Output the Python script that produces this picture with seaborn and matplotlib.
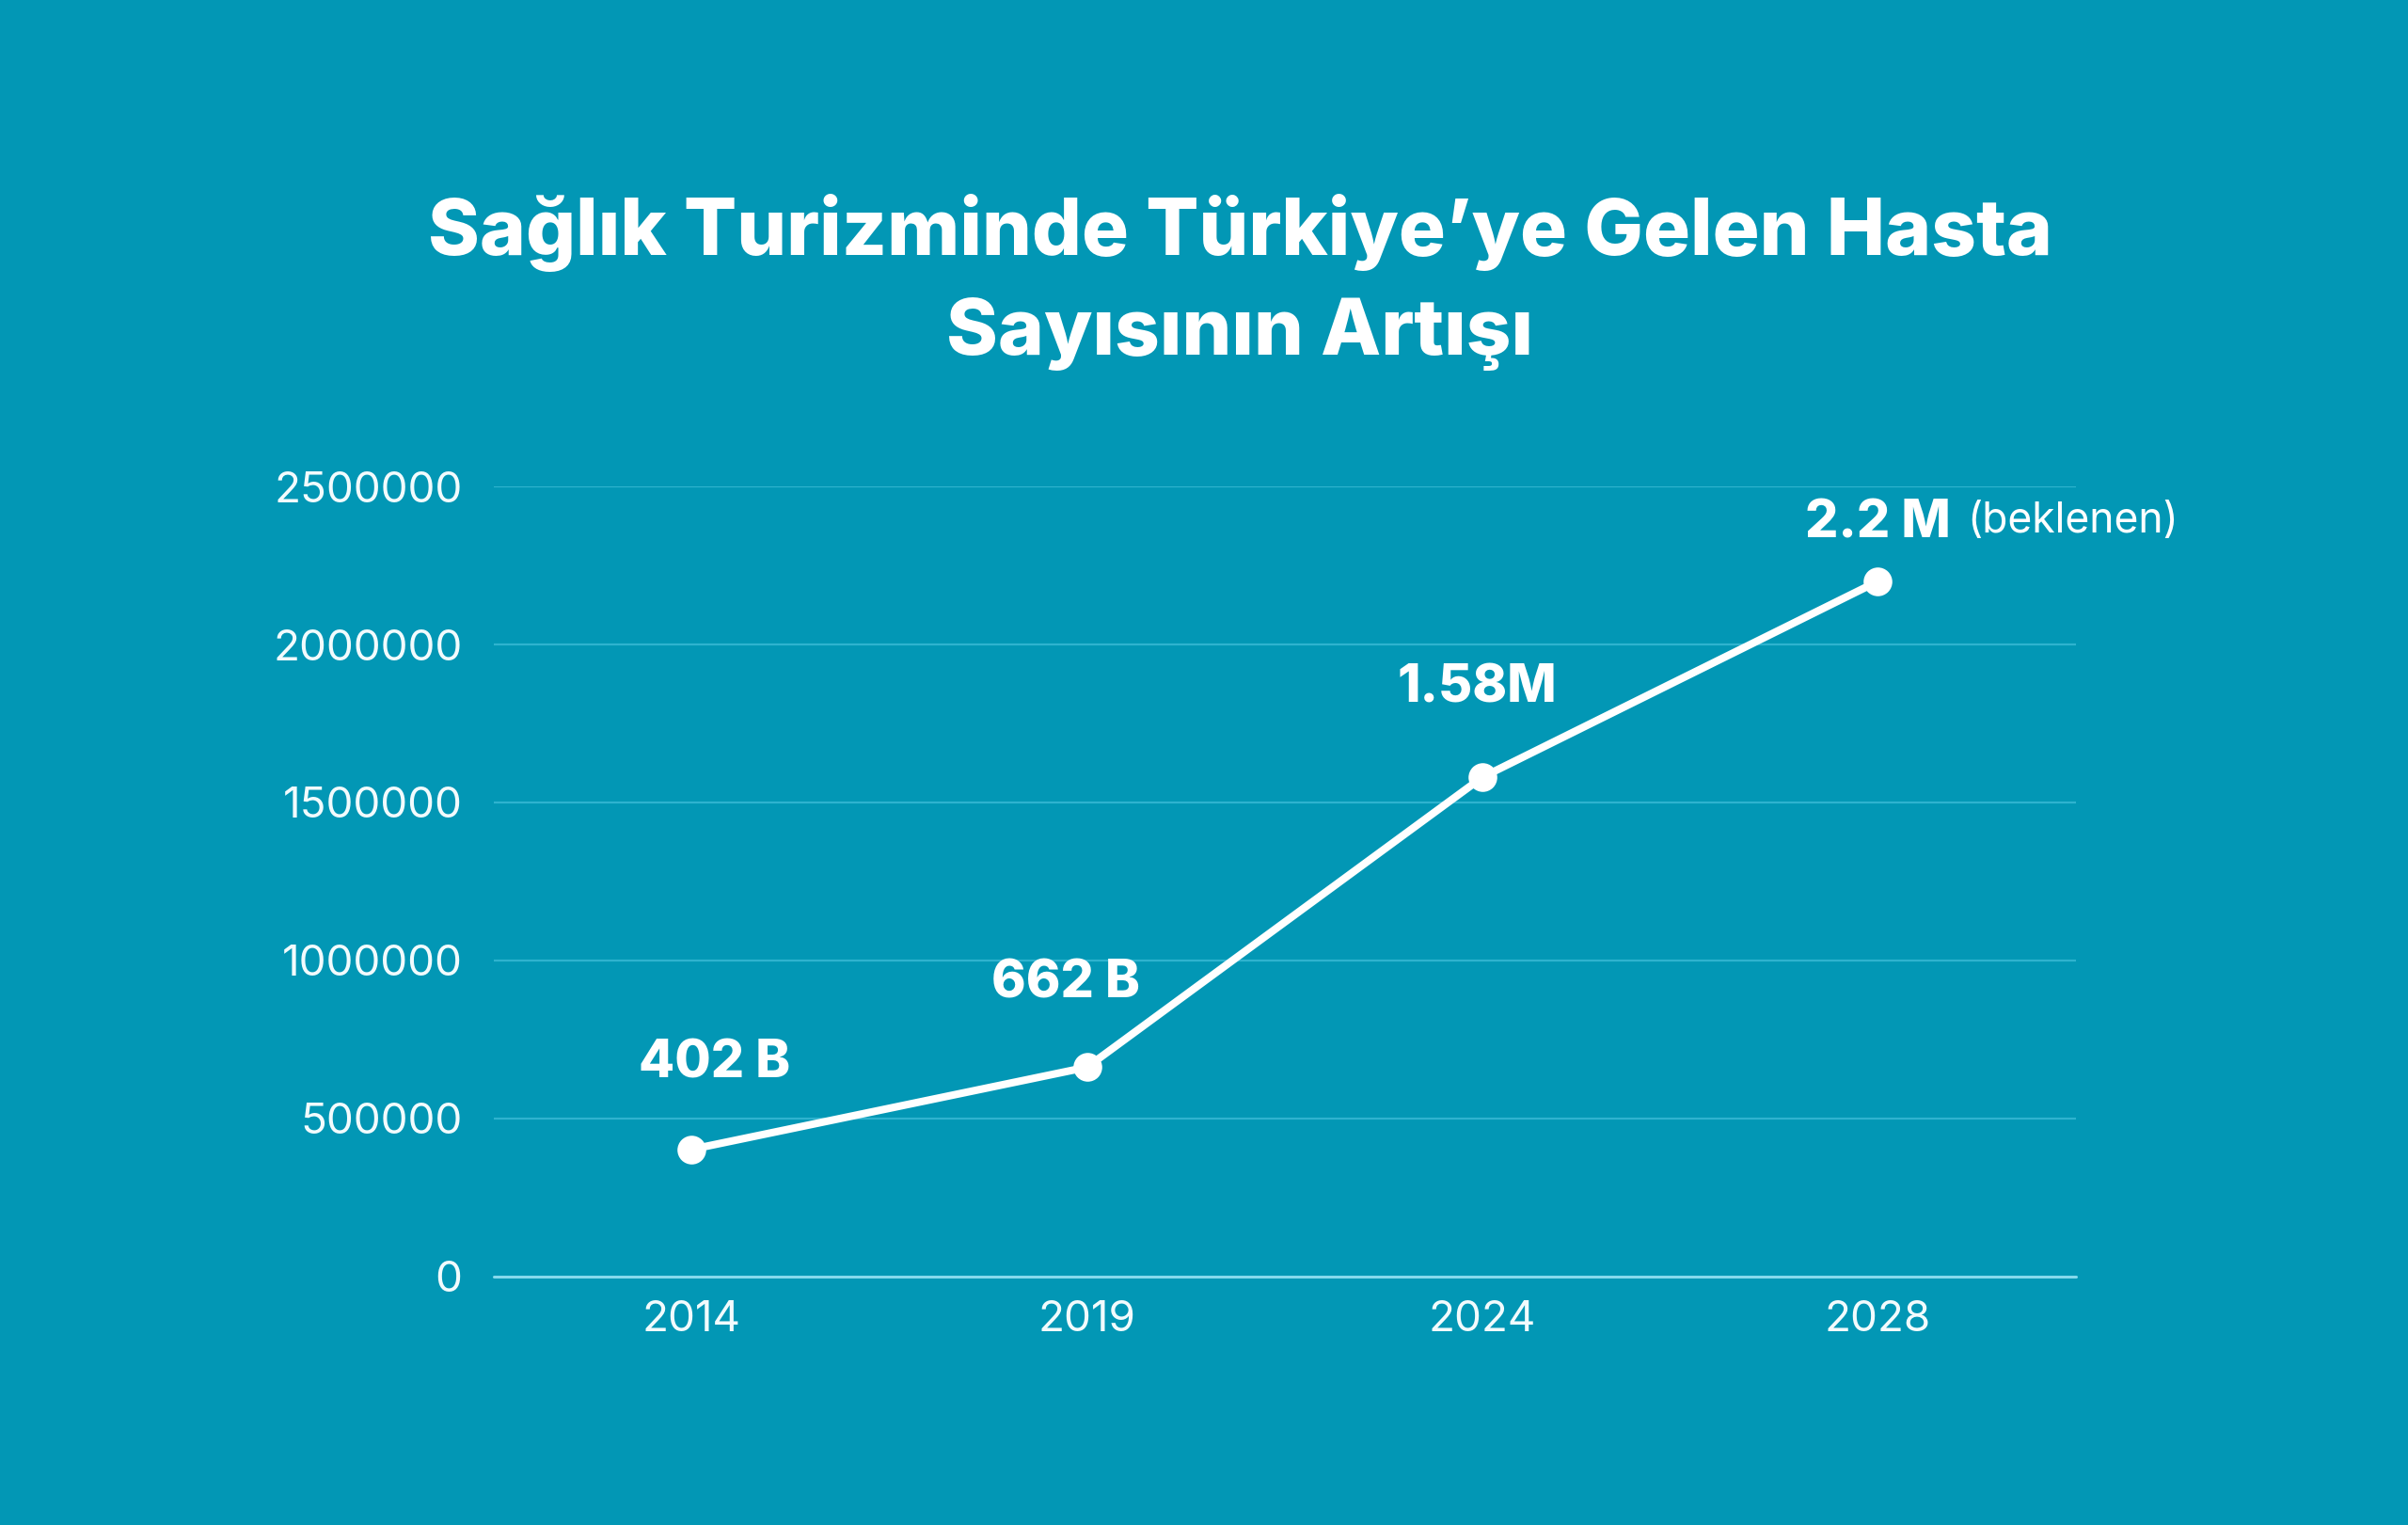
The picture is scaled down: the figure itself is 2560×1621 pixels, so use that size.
import matplotlib
matplotlib.use("Agg")
import matplotlib.pyplot as plt
import seaborn as sns
import pandas as pd

years = ["2014", "2019", "2024", "2028"]
patients = [402000, 662000, 1580000, 2200000]
labels = ["402 B", "662 B", "1.58M", "2.2 M"]
yticks = [0, 500000, 1000000, 1500000, 2000000, 2500000]
title = "Sağlık Turizminde Türkiye’ye Gelen Hasta\nSayısının Artışı"
note = "(beklenen)"

BG = "#0297B5"
GRID = "#2FB3CF"
BASE = "#86D9EC"
WHITE = "#FFFFFF"

sns.set_theme(style="white")
plt.rcParams["font.family"] = ["Inter", "DejaVu Sans"]

df = pd.DataFrame({"year": years, "patients": patients})

fig = plt.figure(figsize=(12.8, 8.105), dpi=200, facecolor=BG)
ax = fig.add_axes([0.205, 0.163, 0.657, 0.518])
ax.set_facecolor(BG)

sns.lineplot(data=df, x="year", y="patients", ax=ax, color=WHITE,
             linewidth=2.9, marker="o", markersize=11, markeredgewidth=0,
             sort=False, zorder=5)

ax.set_xlim(-0.5, 3.5)
ax.set_ylim(0, 2500000)
ax.set_yticks(yticks)
ax.set_yticklabels([str(v) for v in yticks])
ax.set_xlabel("")
ax.set_ylabel("")

for v in yticks[1:]:
    ax.axhline(v, color=GRID, linewidth=0.8, zorder=1)
ax.axhline(0, color=BASE, linewidth=1.1, zorder=1, clip_on=False)

for s in ax.spines.values():
    s.set_visible(False)
ax.tick_params(axis="both", length=0, colors=WHITE, labelsize=16.5)
ax.tick_params(axis="y", pad=12)
ax.tick_params(axis="x", pad=9)
for t in ax.get_xticklabels() + ax.get_yticklabels():
    t.set_fontweight("normal")
    t.set_color("#F2FBFD")

offsets = [(9, 33), (-8, 32), (-2, 34), (0, 22)]
for i, (lab, v, off) in enumerate(zip(labels, patients, offsets)):
    ax.annotate(lab, xy=(i, v), xytext=off, textcoords="offset points",
                ha="center", va="center", color=WHITE, fontsize=20,
                fontweight="heavy", zorder=6)

ax.annotate(note, xy=(3, patients[3]), xytext=(34, 23), textcoords="offset points",
            ha="left", va="center", color=WHITE, fontsize=16, fontweight="normal",
            annotation_clip=False)

fig.text(0.515, 0.815, title, ha="center", va="center", color=WHITE,
         fontsize=30, fontweight="heavy", linespacing=1.45)

fig.savefig("out.png", dpi=200, facecolor=BG)
